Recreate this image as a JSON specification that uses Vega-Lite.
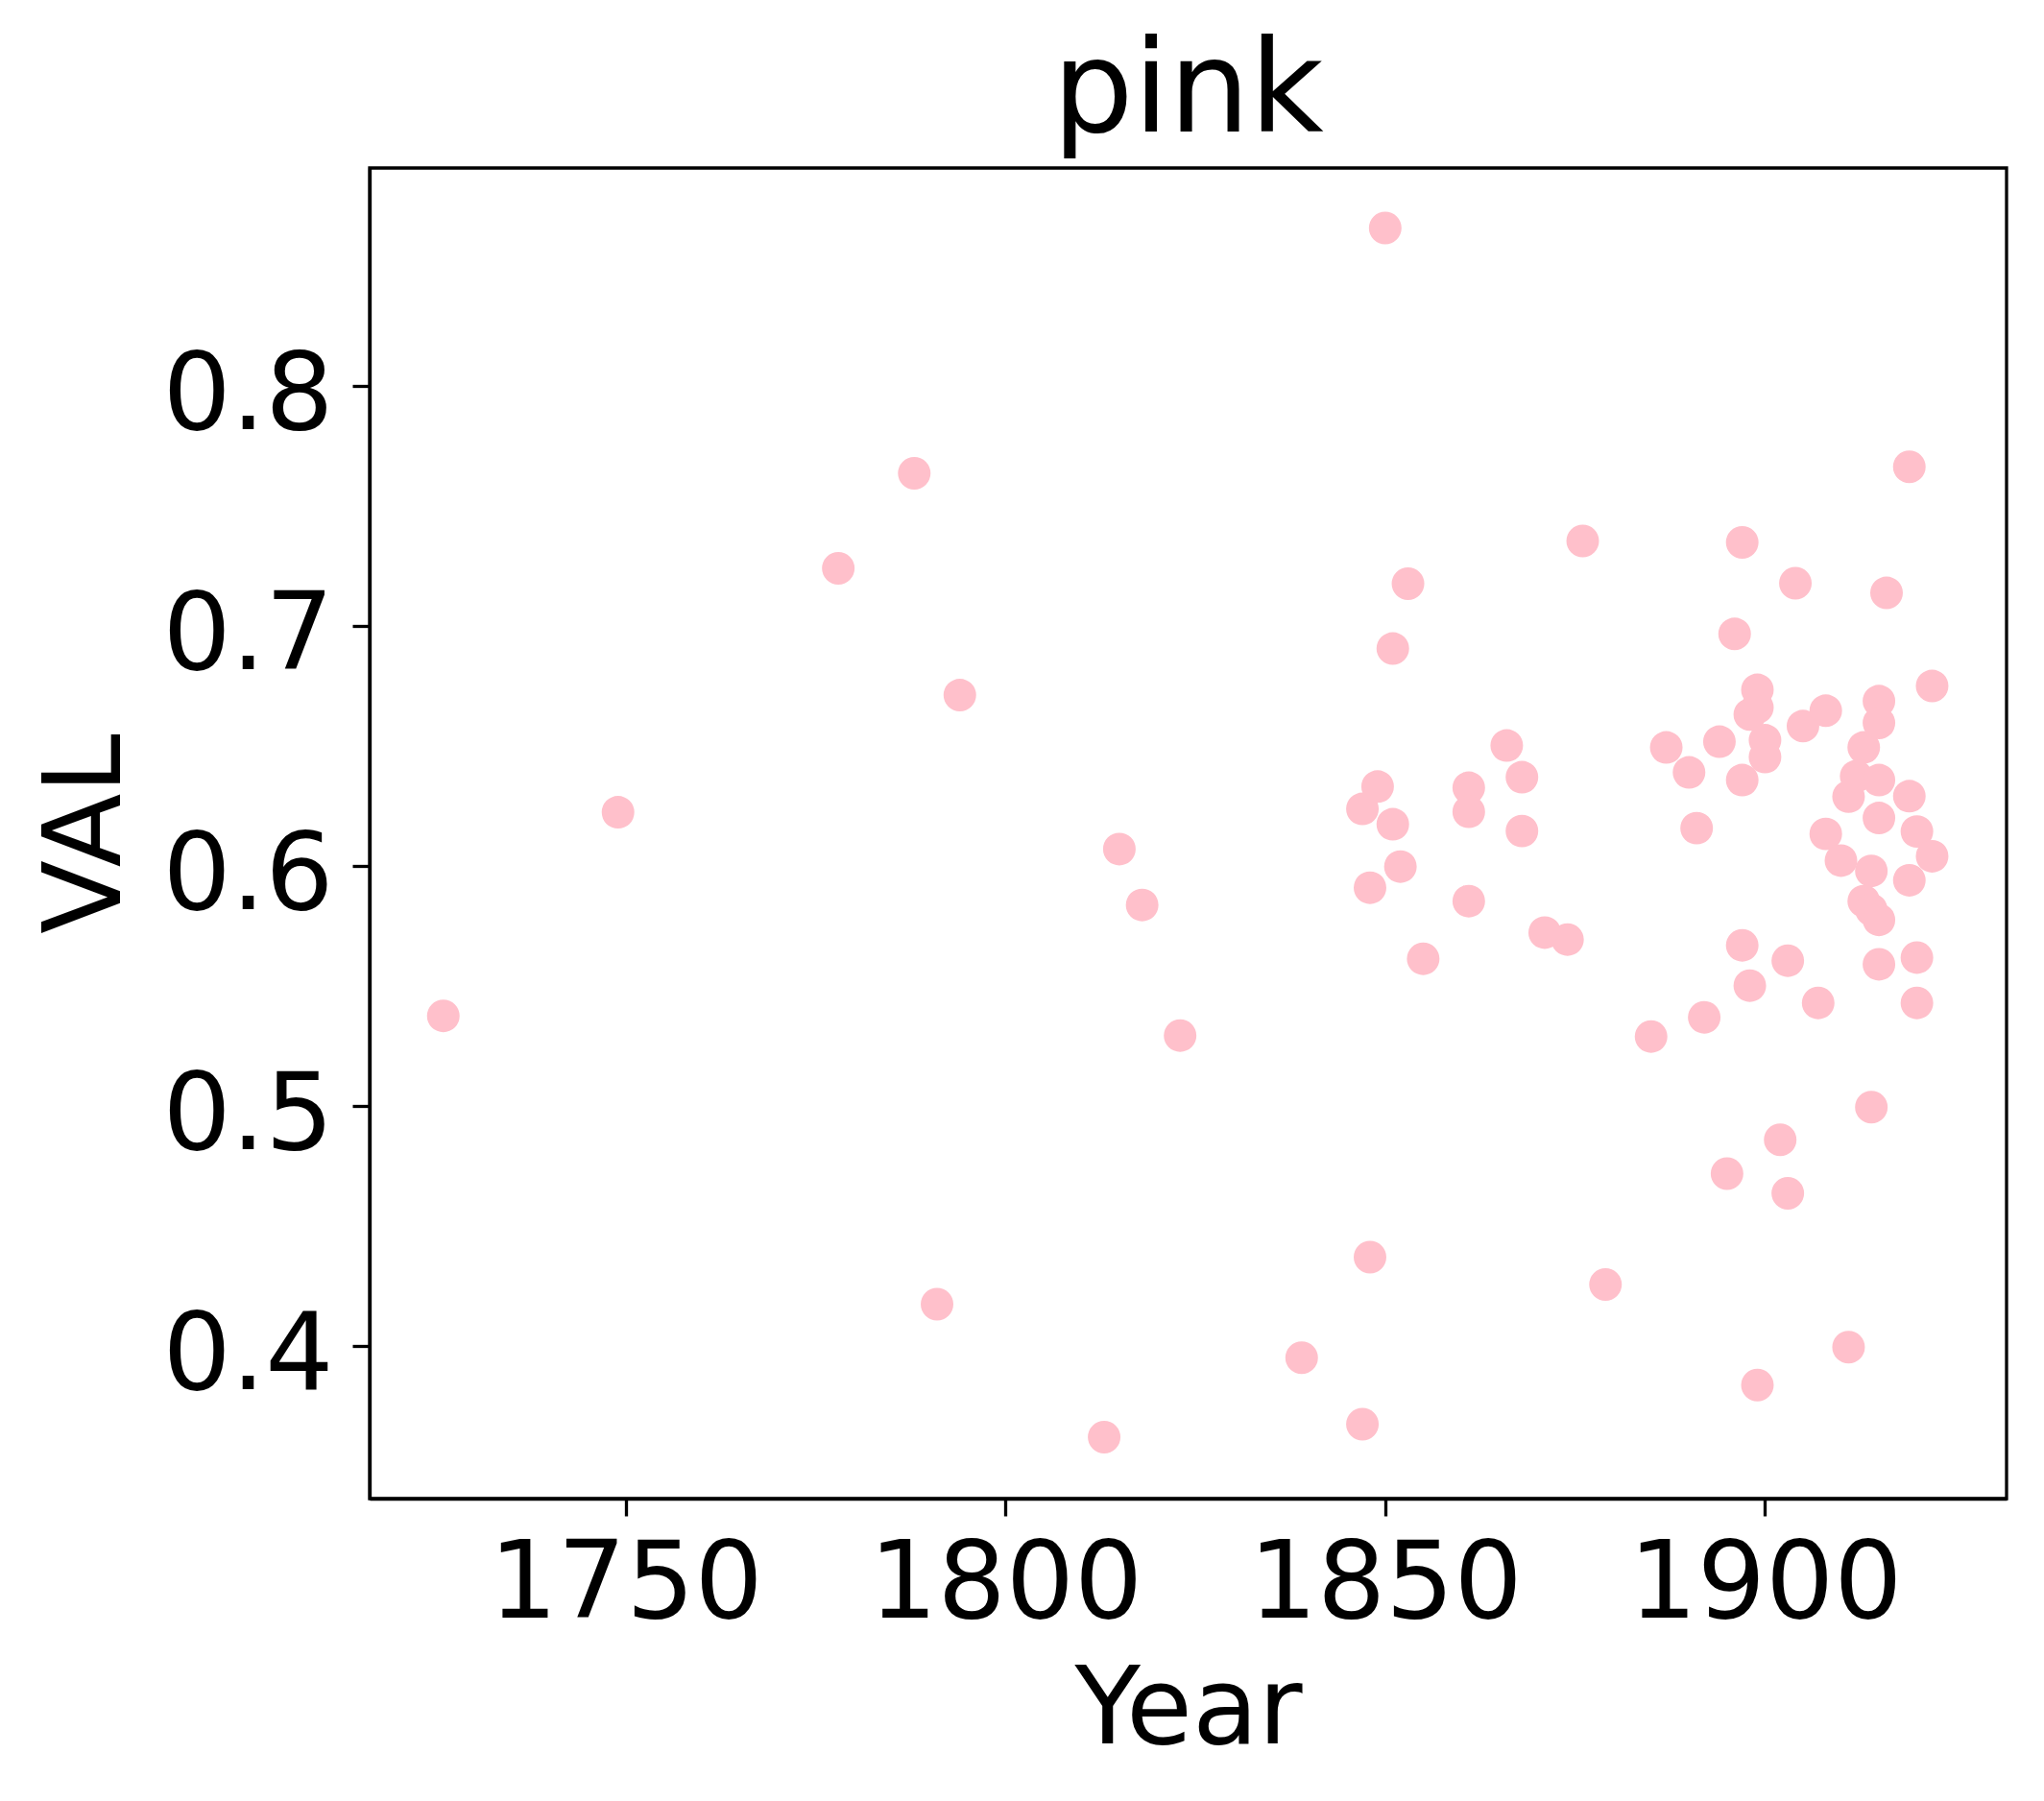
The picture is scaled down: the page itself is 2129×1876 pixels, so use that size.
{
  "$schema": "https://vega.github.io/schema/vega-lite/v6.json",
  "autosize": {"type": "none"},
  "padding": {"left": 385, "top": 175, "right": 39, "bottom": 315},
  "width": 1705,
  "height": 1386,
  "background": "white",
  "title": {"text": "pink", "font": "DejaVu Sans", "fontSize": 133, "fontWeight": "normal", "color": "black", "baseline": "alphabetic", "offset": 33, "dy": 128, "anchor": "middle"},
  "config": {
    "view": {"stroke": "black", "strokeWidth": 3.3},
    "axis": {
      "grid": false,
      "domainColor": "black",
      "domainWidth": 3.3,
      "tickColor": "black",
      "tickWidth": 3.3,
      "tickSize": 18,
      "labelFont": "DejaVu Sans",
      "labelFontSize": 112,
      "labelColor": "black",
      "labelLimit": 2000,
      "titleFont": "DejaVu Sans",
      "titleFontSize": 112,
      "titleFontWeight": "normal",
      "titleColor": "black",
      "titleLimit": 2000
    }
  },
  "data": {
    "values": [
      {"Year": 1726, "VAL": 0.5375},
      {"Year": 1749, "VAL": 0.6223},
      {"Year": 1778, "VAL": 0.7239},
      {"Year": 1788, "VAL": 0.7635},
      {"Year": 1791, "VAL": 0.4174},
      {"Year": 1794, "VAL": 0.6711},
      {"Year": 1813, "VAL": 0.3620},
      {"Year": 1815, "VAL": 0.6070},
      {"Year": 1818, "VAL": 0.5837},
      {"Year": 1823, "VAL": 0.5293},
      {"Year": 1839, "VAL": 0.3951},
      {"Year": 1847, "VAL": 0.3674},
      {"Year": 1847, "VAL": 0.6237},
      {"Year": 1848, "VAL": 0.4370},
      {"Year": 1848, "VAL": 0.5909},
      {"Year": 1849, "VAL": 0.6330},
      {"Year": 1850, "VAL": 0.8657},
      {"Year": 1851, "VAL": 0.6905},
      {"Year": 1851, "VAL": 0.6173},
      {"Year": 1852, "VAL": 0.5997},
      {"Year": 1853, "VAL": 0.7175},
      {"Year": 1855, "VAL": 0.5613},
      {"Year": 1861, "VAL": 0.6325},
      {"Year": 1861, "VAL": 0.6225},
      {"Year": 1861, "VAL": 0.5853},
      {"Year": 1866, "VAL": 0.6501},
      {"Year": 1868, "VAL": 0.6369},
      {"Year": 1868, "VAL": 0.6145},
      {"Year": 1871, "VAL": 0.5722},
      {"Year": 1874, "VAL": 0.5693},
      {"Year": 1876, "VAL": 0.7353},
      {"Year": 1879, "VAL": 0.4256},
      {"Year": 1885, "VAL": 0.5289},
      {"Year": 1887, "VAL": 0.6493},
      {"Year": 1890, "VAL": 0.6389},
      {"Year": 1891, "VAL": 0.6157},
      {"Year": 1892, "VAL": 0.5369},
      {"Year": 1894, "VAL": 0.6517},
      {"Year": 1895, "VAL": 0.4718},
      {"Year": 1896, "VAL": 0.6966},
      {"Year": 1897, "VAL": 0.7347},
      {"Year": 1897, "VAL": 0.6357},
      {"Year": 1897, "VAL": 0.5669},
      {"Year": 1898, "VAL": 0.6630},
      {"Year": 1898, "VAL": 0.5501},
      {"Year": 1899, "VAL": 0.6733},
      {"Year": 1899, "VAL": 0.6659},
      {"Year": 1899, "VAL": 0.3837},
      {"Year": 1900, "VAL": 0.6523},
      {"Year": 1900, "VAL": 0.6453},
      {"Year": 1902, "VAL": 0.4859},
      {"Year": 1903, "VAL": 0.4636},
      {"Year": 1903, "VAL": 0.5605},
      {"Year": 1904, "VAL": 0.7177},
      {"Year": 1905, "VAL": 0.6582},
      {"Year": 1907, "VAL": 0.5429},
      {"Year": 1908, "VAL": 0.6646},
      {"Year": 1908, "VAL": 0.6133},
      {"Year": 1910, "VAL": 0.6022},
      {"Year": 1911, "VAL": 0.6288},
      {"Year": 1911, "VAL": 0.3995},
      {"Year": 1913, "VAL": 0.6493},
      {"Year": 1912, "VAL": 0.6373},
      {"Year": 1913, "VAL": 0.5853},
      {"Year": 1914, "VAL": 0.5979},
      {"Year": 1914, "VAL": 0.5817},
      {"Year": 1914, "VAL": 0.4995},
      {"Year": 1915, "VAL": 0.6686},
      {"Year": 1915, "VAL": 0.6595},
      {"Year": 1915, "VAL": 0.6357},
      {"Year": 1915, "VAL": 0.6199},
      {"Year": 1915, "VAL": 0.5775},
      {"Year": 1915, "VAL": 0.5590},
      {"Year": 1916, "VAL": 0.7137},
      {"Year": 1919, "VAL": 0.7662},
      {"Year": 1919, "VAL": 0.6290},
      {"Year": 1919, "VAL": 0.5940},
      {"Year": 1920, "VAL": 0.6143},
      {"Year": 1920, "VAL": 0.5618},
      {"Year": 1920, "VAL": 0.5429},
      {"Year": 1922, "VAL": 0.6749},
      {"Year": 1922, "VAL": 0.6040}
    ]
  },
  "mark": {"type": "circle", "color": "#FFC0CB", "opacity": 1, "size": 1155, "strokeWidth": 0},
  "encoding": {
    "x": {
      "field": "Year",
      "type": "quantitative",
      "scale": {"domain": [1716.3, 1931.8], "nice": false, "zero": false},
      "axis": {
        "values": [1750, 1800, 1850, 1900],
        "format": "d",
        "labelBaseline": "alphabetic",
        "labelPadding": 105,
        "labelAlign": "center",
        "labelFlush": false,
        "labelOverlap": false,
        "title": "Year",
        "titleBaseline": "alphabetic",
        "titleX": 852.5,
        "titleY": 254,
        "titleAnchor": null
      }
    },
    "y": {
      "field": "VAL",
      "type": "quantitative",
      "scale": {"domain": [0.3364, 0.8907], "nice": false, "zero": false},
      "axis": {
        "values": [0.4, 0.5, 0.6, 0.7, 0.8],
        "format": ".1f",
        "labelBaseline": "alphabetic",
        "labelOffset": 45,
        "labelPadding": 20,
        "labelFlush": false,
        "labelOverlap": false,
        "title": "VAL",
        "titleAngle": 270,
        "titleBaseline": "alphabetic",
        "titleAlign": "center",
        "titleX": -261,
        "titleY": 693
      }
    }
  }
}
